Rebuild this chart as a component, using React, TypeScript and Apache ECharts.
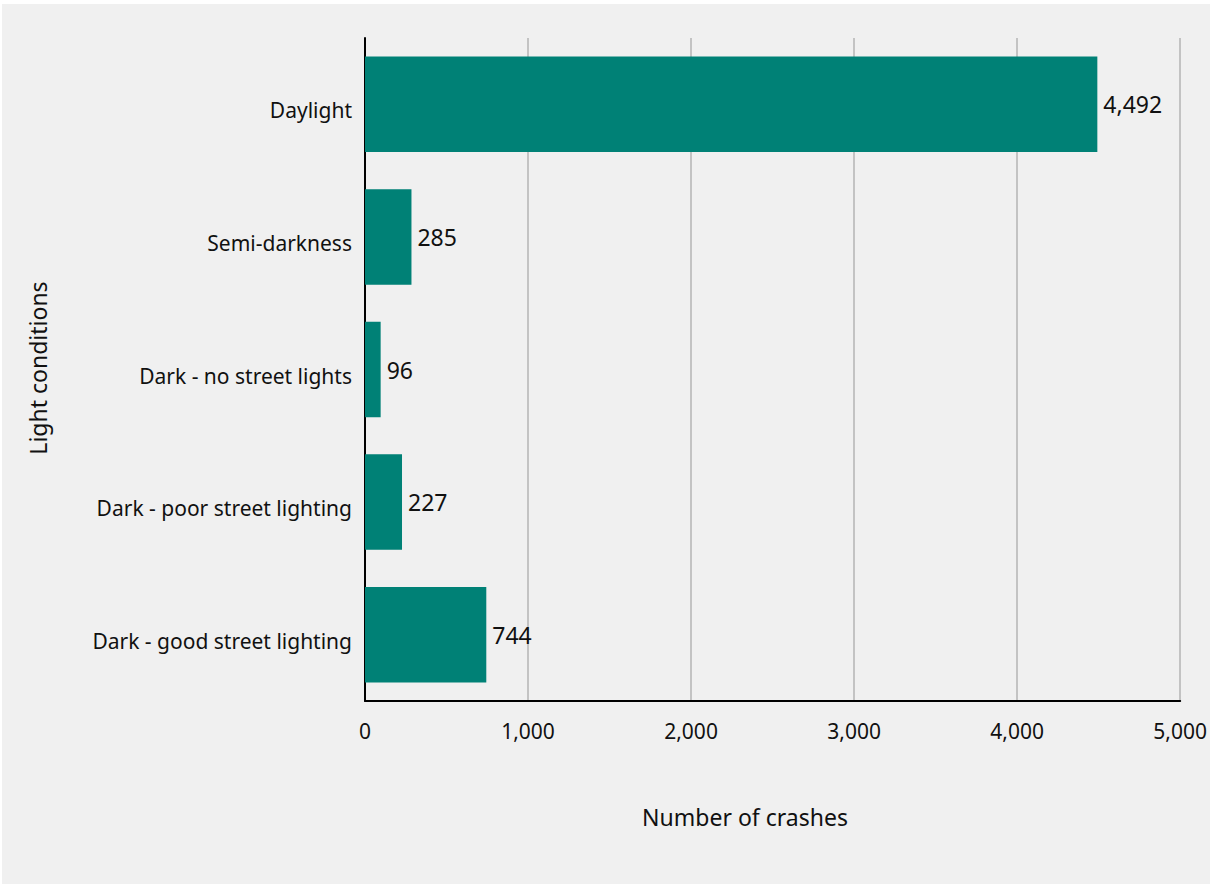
import React, { useEffect, useRef } from "react";
import * as echarts from "echarts";

const categories = [
  "Daylight",
  "Semi-darkness",
  "Dark - no street lights",
  "Dark - poor street lighting",
  "Dark - good street lighting",
];
const crashes = [4492, 285, 96, 227, 744];
const xTicks = [0, 1000, 2000, 3000, 4000, 5000];

const FONT = "'Noto Sans', sans-serif";

export default function App() {
  const ref = useRef<HTMLDivElement>(null);
  useEffect(() => {
    if (!ref.current) return;
    const chart = echarts.init(ref.current, undefined, { renderer: "svg" });
    chart.setOption({
      animation: false,
      backgroundColor: "#f0f0f0",
      textStyle: { fontFamily: FONT },
      grid: { left: 363, top: 34, right: 24, bottom: 183, containLabel: false },
      xAxis: {
        type: "value",
        min: xTicks[0],
        max: xTicks[xTicks.length - 1],
        interval: 1000,
        axisLine: { show: true, lineStyle: { color: "#000", width: 2 } },
        axisTick: { show: false },
        splitLine: { show: true, lineStyle: { color: "#b4b4b4", width: 1.5 } },
        axisLabel: {
          color: "#111",
          fontSize: 21,
          fontFamily: FONT,
          margin: 19,
          formatter: (v: number) => v.toLocaleString("en-US"),
        },
      },
      yAxis: {
        type: "category",
        data: categories,
        inverse: true,
        axisLine: { show: true, lineStyle: { color: "#000", width: 2 } },
        axisTick: { show: false },
        axisLabel: {
          margin: 13,
          formatter: (v: string) => "{a|" + v + "}",
          rich: {
            a: {
              color: "#111",
              fontSize: 21,
              fontFamily: FONT,
              padding: [12, 0, 0, 0],
            },
          },
        },
      },
      series: [
        {
          type: "bar",
          data: crashes,
          barWidth: "72%",
          itemStyle: { color: "#008176" },
          label: {
            show: true,
            position: "right",
            distance: 6,
            color: "#111",
            fontSize: 23,
            fontFamily: FONT,
            formatter: (p: any) => Number(p.value).toLocaleString("en-US"),
          },
        },
      ],
      graphic: [
        {
          type: "text",
          x: 743,
          y: 813,
          style: {
            text: "Number of crashes",
            fontSize: 23,
            fontFamily: FONT,
            fill: "#111",
            align: "center",
            verticalAlign: "middle",
          },
        },
        {
          type: "text",
          x: 36,
          y: 364,
          rotation: Math.PI / 2,
          style: {
            text: "Light conditions",
            fontSize: 23,
            fontFamily: FONT,
            fill: "#111",
            align: "center",
            verticalAlign: "middle",
          },
        },
      ],
    });
    return () => chart.dispose();
  }, []);
  return (
    <div
      style={{
        position: "fixed",
        left: 0,
        top: 0,
        width: 1212,
        height: 885,
        background: "#fff",
      }}
    >
      <div
        ref={ref}
        style={{ position: "absolute", left: 2, top: 4, width: 1208, height: 880 }}
      />
    </div>
  );
}
